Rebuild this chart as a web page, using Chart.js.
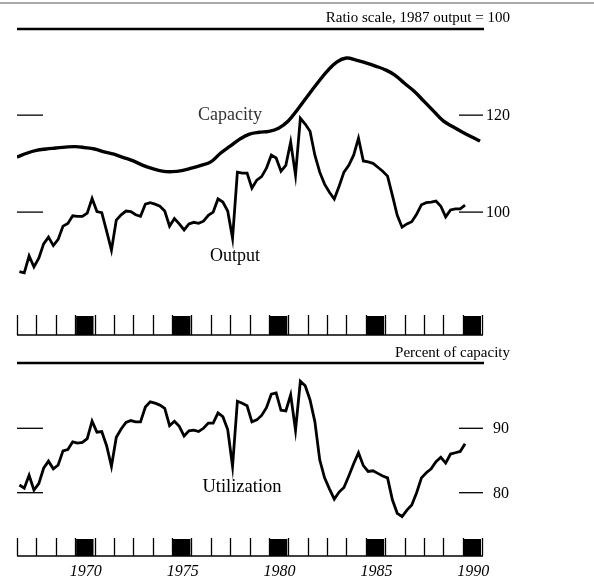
<!DOCTYPE html>
<html>
<head>
<meta charset="utf-8">
<script src="https://cdn.jsdelivr.net/npm/chart.js@4"></script>
<style>
  html, body { margin: 0; padding: 0; background: #fff; }
  #wrap { position: relative; width: 594px; height: 581px; }
</style>
</head>
<body>
<div id="wrap"><canvas id="chart" width="594" height="581"></canvas></div>
<script>
// Quarterly series, first point is 1967 Q1 (plotted at mid-quarter)
const startYear = 1967;
const output = [
  89.4, 89.2, 92.1, 90.2, 91.7, 94.2, 95.4, 93.9, 95.0, 97.4,
  97.9, 99.3, 99.2, 99.2, 99.8, 102.6, 100.1, 99.9, 96.5, 93.1,
  98.5, 99.5, 100.2, 100.1, 99.5, 99.2, 101.5, 101.8, 101.5, 101.1,
  100.2, 97.4, 98.8, 97.8, 96.7, 97.8, 98.1, 97.9, 98.3, 99.4,
  100.0, 102.5, 101.9, 100.2, 95.2, 107.8, 107.6, 107.6, 104.6, 106.2,
  106.9, 108.6, 111.3, 110.7, 108.0, 109.2, 114.1, 107.2, 119.3, 118.0,
  116.4, 111.3, 107.8, 105.4, 103.8, 102.5, 105.0, 107.8, 109.2, 111.3,
  114.9, 110.1, 109.9, 109.6, 108.8, 108.0, 107.0, 103.2, 99.4, 97.2,
  97.8, 98.2, 99.6, 101.4, 101.8, 101.9, 102.1, 101.1, 99.1, 100.4,
  100.6, 100.6, 101.3
];
const utilization = [
  81.2, 80.7, 82.7, 80.4, 81.4, 83.8, 84.9, 83.7, 84.3, 86.5,
  86.7, 87.9, 87.7, 87.8, 88.4, 91.1, 89.4, 89.5, 87.3, 84.1,
  88.6, 89.9, 90.9, 91.2, 91.0, 91.0, 93.3, 94.1, 93.9, 93.6,
  93.1, 90.4, 91.1, 90.3, 88.8, 89.6, 89.7, 89.5, 90.0, 90.8,
  90.8, 92.4, 91.8, 89.8, 84.1, 94.2, 93.9, 93.5, 91.0, 91.3,
  92.0, 93.2, 95.3, 95.5, 92.8, 92.7, 95.2, 89.7, 97.3, 96.6,
  94.4, 91.0, 85.1, 82.3, 80.6, 79.0, 80.1, 80.8, 82.6, 84.5,
  86.2, 84.2, 83.3, 83.4, 83.0, 82.6, 82.3, 78.9, 76.8, 76.3,
  77.3, 78.1, 80.0, 82.3, 83.1, 83.7, 84.8, 85.5, 84.6, 86.0,
  86.2, 86.4, 87.6
];

// Capacity read at half-year points
const capYears = [
  1967, 1967.5, 1968, 1968.5, 1969, 1969.5, 1970, 1970.5, 1971, 1971.5,
  1972, 1972.5, 1973, 1973.5, 1974, 1974.5, 1975, 1975.5, 1976, 1976.5,
  1977, 1977.5, 1978, 1978.5, 1979, 1979.5, 1980, 1980.5, 1981, 1981.5,
  1982, 1982.5, 1983, 1983.5, 1984, 1984.5, 1985, 1985.5, 1986, 1986.5,
  1987, 1987.5, 1988, 1988.5, 1989, 1989.5, 1990, 1990.5, 1990.9
];
const capacity = [
  110.9, 111.7, 112.3, 112.6, 112.8, 113.0, 113.1, 112.9, 112.6, 112.0,
  111.5, 110.8, 110.1, 109.2, 108.5, 108.0, 107.9, 108.1, 108.6, 109.2,
  109.9, 111.7, 113.2, 114.7, 115.8, 116.2, 116.4, 117.1, 118.7, 121.4,
  124.4, 127.4, 130.3, 132.6, 133.6, 133.1, 132.4, 131.6, 130.7, 129.4,
  127.4, 125.5, 123.2, 120.9, 118.7, 117.4, 116.2, 115.1, 114.3
];

const ratioTicks = [100, 120];
const percentTicks = [80, 90];
const markedYears = [1970, 1975, 1980, 1985, 1990];
const firstYear = 1967, lastYear = 1991;

const quarterX = i => startYear + 0.125 + i * 0.25;
const toPoints = (xs, ys) => ys.map((v, i) => ({ x: xs(i), y: v }));

const serif = '"Liberation Serif", "DejaVu Serif", serif';

function rule(ctx, x0, x1, y, w, color) {
  ctx.beginPath();
  ctx.lineWidth = w;
  ctx.strokeStyle = color || '#000';
  ctx.moveTo(x0, y);
  ctx.lineTo(x1, y);
  ctx.stroke();
}

function yearStrip(ctx, xs, top, base) {
  const left = xs.getPixelForValue(firstYear);
  const right = xs.getPixelForValue(lastYear);
  ctx.fillStyle = '#000';
  markedYears.forEach(yr => {
    const a = xs.getPixelForValue(yr), b = xs.getPixelForValue(yr + 1);
    ctx.fillRect(a + 1, top + 1, b - a - 2, base - top - 1);
  });
  ctx.lineWidth = 1.3;
  ctx.strokeStyle = '#000';
  ctx.beginPath();
  for (let yr = firstYear; yr <= lastYear; yr++) {
    const px = Math.round(xs.getPixelForValue(yr)) + 0.5;
    ctx.moveTo(px, top);
    ctx.lineTo(px, base);
  }
  ctx.stroke();
  rule(ctx, left, right + 1, base, 1.6);
}

function valueTicks(ctx, scale, ticks, labelX) {
  ctx.font = '16px ' + serif;
  ctx.textAlign = 'left';
  ctx.textBaseline = 'middle';
  ctx.fillStyle = '#000';
  ticks.forEach(v => {
    const py = scale.getPixelForValue(v);
    rule(ctx, 17, 43, py, 1.3);
    rule(ctx, 459, 483, py, 1.3);
    ctx.fillText(String(v), labelX, py + 1);
  });
}

const decor = {
  id: 'decor',
  afterDraw(chart) {
    const ctx = chart.ctx;
    const xs = chart.scales.x;
    const left = xs.getPixelForValue(firstYear);
    const right = xs.getPixelForValue(lastYear);
    ctx.save();

    // heading rules and notes
    rule(ctx, 0, 594, 3, 1, '#555');
    rule(ctx, left, right + 2, 29, 2.4);
    rule(ctx, left, right + 2, 363, 2.4);
    ctx.fillStyle = '#000';
    ctx.textAlign = 'right';
    ctx.textBaseline = 'alphabetic';
    ctx.font = '15px ' + serif;
    ctx.fillText('Ratio scale, 1987 output = 100', 510, 22);
    ctx.font = '15px ' + serif;
    ctx.fillText('Percent of capacity', 510, 357);

    // value ticks
    valueTicks(ctx, chart.scales.y, ratioTicks, 486);
    valueTicks(ctx, chart.scales.y2, percentTicks, 493);

    // year strips
    yearStrip(ctx, xs, 315, 335);
    yearStrip(ctx, xs, 538, 556);

    ctx.font = 'italic 16px ' + serif;
    ctx.textAlign = 'center';
    ctx.textBaseline = 'alphabetic';
    markedYears.forEach(yr => {
      ctx.fillText(String(yr), xs.getPixelForValue(yr + 0.5) + 1, 576);
    });

    // series names
    ctx.textBaseline = 'middle';
    ctx.font = '18px ' + serif;
    ctx.fillStyle = '#333';
    ctx.fillText('Capacity', 230, 115);
    ctx.fillStyle = '#000';
    ctx.fillText('Output', 235, 256);
    ctx.font = '18.5px ' + serif;
    ctx.fillText('Utilization', 242, 487);
    ctx.restore();
  }
};

new Chart(document.getElementById('chart'), {
  type: 'line',
  data: {
    datasets: [
      {
        label: 'Capacity',
        data: toPoints(i => capYears[i], capacity),
        yAxisID: 'y',
        borderColor: '#000',
        borderWidth: 3.4,
        tension: 0.4,
        pointRadius: 0
      },
      {
        label: 'Output',
        data: toPoints(quarterX, output),
        yAxisID: 'y',
        borderColor: '#000',
        borderWidth: 2.8,
        tension: 0,
        pointRadius: 0
      },
      {
        label: 'Utilization',
        data: toPoints(quarterX, utilization),
        yAxisID: 'y2',
        borderColor: '#000',
        borderWidth: 2.8,
        tension: 0,
        pointRadius: 0
      }
    ]
  },
  options: {
    responsive: false,
    animation: false,
    devicePixelRatio: 1,
    layout: { padding: { left: 17, right: 112, top: 29, bottom: 25 } },
    scales: {
      x: { type: 'linear', min: firstYear, max: lastYear, display: false },
      y: { type: 'logarithmic', min: 52.38, max: 141.1, bounds: 'data', display: false },
      y2: { type: 'linear', min: 70.17, max: 152.0, display: false }
    },
    plugins: { legend: { display: false }, tooltip: { enabled: false } }
  },
  plugins: [decor]
});
</script>
</body>
</html>
